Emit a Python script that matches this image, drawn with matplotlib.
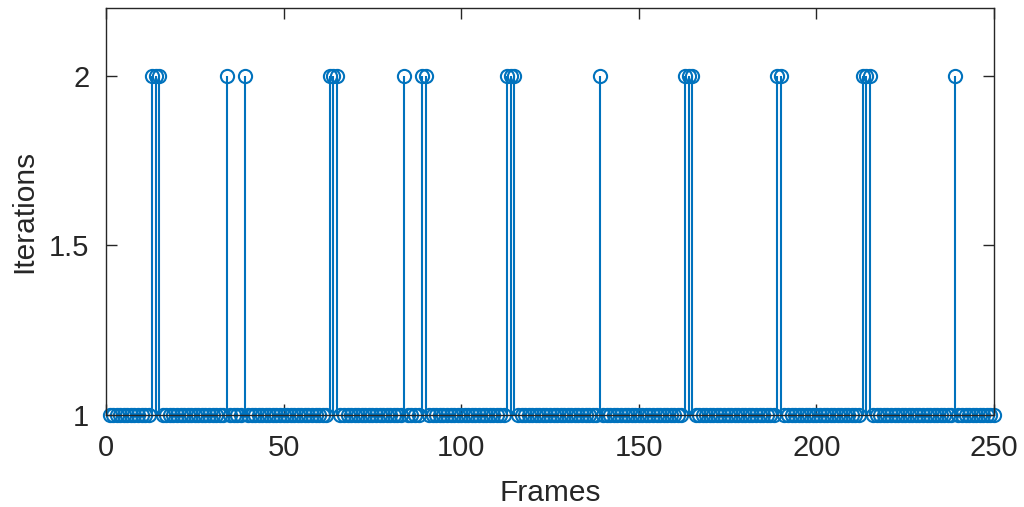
import matplotlib
matplotlib.use("Agg")
import matplotlib.pyplot as plt
import numpy as np

frames = list(range(1, 251))
two_frames = [13, 14, 15, 34, 39, 63, 64, 65, 84, 89, 90, 113, 114, 115, 139,
              163, 164, 165, 189, 190, 213, 214, 215, 239]
iterations = [2 if f in two_frames else 1 for f in frames]

x_ticks = [0, 50, 100, 150, 200, 250]
y_ticks = [1, 1.5, 2]
y_tick_labels = ["1", "1.5", "2"]

plt.rcParams['font.family'] = ['Liberation Sans', 'DejaVu Sans']

fig = plt.figure(figsize=(10.24, 5.07), dpi=100)
ax = fig.add_axes([106/1024, 1-415/507, 888/1024, 407/507])

color = '#0072BD'
markerline, stemlines, baseline = ax.stem(frames, iterations, bottom=0)
markerline.set_color(color)
markerline.set_markerfacecolor('none')
markerline.set_markersize(9.5)
markerline.set_markeredgewidth(1.5)
markerline.set_clip_on(False)
stemlines.set_color(color)
stemlines.set_linewidth(1.5)
baseline.set_visible(False)

ax.set_xlim(0, 250)
ax.set_ylim(1, 2.2)
ax.set_xticks(x_ticks)
ax.set_yticks(y_ticks)
ax.set_yticklabels(y_tick_labels)
ax.tick_params(direction='in', length=8, width=1, labelsize=21, top=True, right=True,
               colors='#262626')
ax.tick_params(axis='x', pad=14)
ax.tick_params(axis='y', pad=12)
for s in ax.spines.values():
    s.set_color('#262626')
    s.set_linewidth(1)
ax.set_xlabel('Frames', fontsize=21.5, color='#262626', labelpad=12)
ax.set_ylabel('Iterations', fontsize=21.5, color='#262626', labelpad=8)

fig.savefig('out.png', dpi=100)
